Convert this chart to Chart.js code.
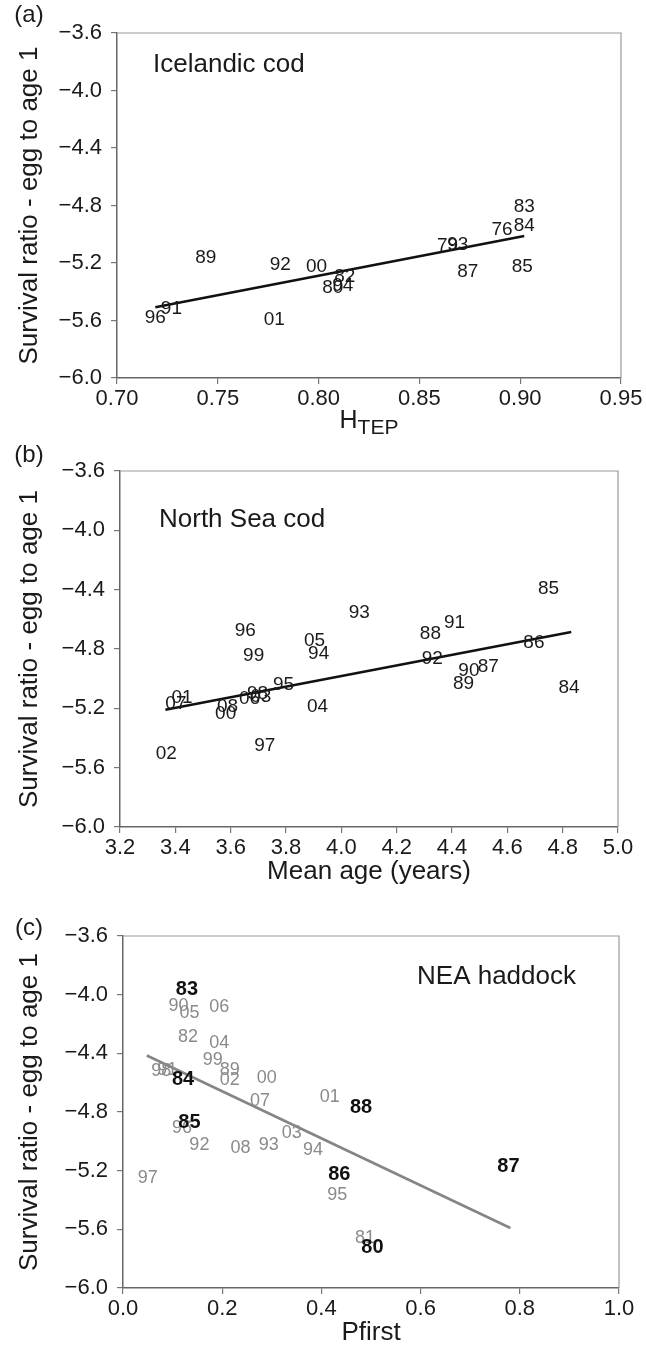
<!DOCTYPE html>
<html lang="en">
<head>
<meta charset="UTF-8">
<title>Survival ratio - egg to age 1</title>
<script src="https://cdn.jsdelivr.net/npm/chart.js"></script>
<style>
  body { margin: 0; background: #fff; }
  #page { position: relative; width: 646px; height: 1347px; }
  .panel { position: absolute; left: 0; width: 646px; }
</style>
</head>
<body>
<div id="page">
  <div class="panel" style="top:0;height:440px"><canvas id="chartA"></canvas></div>
  <div class="panel" style="top:440px;height:445px"><canvas id="chartB"></canvas></div>
  <div class="panel" style="top:885px;height:462px"><canvas id="chartC"></canvas></div>
</div>
<script>
// shared y axis ticks
const yTicks = [-6.0, -5.6, -5.2, -4.8, -4.4, -4.0, -3.6];

// (a) Icelandic cod
const icelandYears = ['83', '84', '76', '79', '93', '89', '92', '00', '85', '87', '82', '80', '94', '91', '96', '01'];
const icelandH = [0.902, 0.902, 0.891, 0.864, 0.869, 0.744, 0.781, 0.799, 0.901, 0.874, 0.813, 0.807, 0.812, 0.727, 0.719, 0.778];
const icelandSurv = [-4.81, -4.94, -4.966, -5.082, -5.075, -5.163, -5.214, -5.226, -5.226, -5.26, -5.295, -5.369, -5.36, -5.515, -5.578, -5.597];
const icelandFitX = [0.719, 0.902];
const icelandFitY = [-5.508, -5.012];
const icelandTicksX = [0.70, 0.75, 0.80, 0.85, 0.90, 0.95];

// (b) North Sea cod
const northYears = ['85', '93', '91', '96', '88', '05', '86', '99', '94', '92', '90', '87', '89', '95', '84', '06', '98', '03', '01', '07', '04', '08', '00', '97', '02'];
const northAge = [4.749, 4.065, 4.409, 3.653, 4.322, 3.903, 4.696, 3.683, 3.918, 4.329, 4.461, 4.531, 4.442, 3.791, 4.823, 3.668, 3.697, 3.709, 3.424, 3.402, 3.914, 3.589, 3.582, 3.723, 3.367];
const northSurv = [-4.393, -4.557, -4.625, -4.679, -4.696, -4.746, -4.757, -4.847, -4.831, -4.865, -4.944, -4.921, -5.033, -5.04, -5.06, -5.135, -5.101, -5.124, -5.128, -5.168, -5.191, -5.191, -5.236, -5.449, -5.505];
const northFitX = [3.364, 4.831];
const northFitY = [-5.209, -4.685];
const northTicksX = [3.2, 3.4, 3.6, 3.8, 4.0, 4.2, 4.4, 4.6, 4.8, 5.0];

// (c) NEA haddock - grey years
const haddockYears = ['90', '05', '06', '82', '04', '99', '98', '91', '89', '02', '00', '07', '01', '96', '03', '92', '93', '08', '94', '97', '95', '81'];
const haddockP = [0.112, 0.134, 0.194, 0.131, 0.194, 0.181, 0.077, 0.089, 0.215, 0.215, 0.29, 0.276, 0.417, 0.119, 0.34, 0.154, 0.294, 0.237, 0.383, 0.05, 0.432, 0.488];
const haddockSurv = [-4.077, -4.127, -4.082, -4.286, -4.331, -4.445, -4.518, -4.513, -4.513, -4.581, -4.569, -4.722, -4.695, -4.91, -4.944, -5.028, -5.024, -5.046, -5.058, -5.251, -5.364, -5.659];
// (c) NEA haddock - bold years
const haddockBoldYears = ['83', '84', '88', '85', '87', '86', '80'];
const haddockBoldP = [0.129, 0.121, 0.48, 0.134, 0.777, 0.436, 0.503];
const haddockBoldSurv = [-3.968, -4.581, -4.77, -4.872, -5.171, -5.223, -5.723];
const haddockFitX = [0.048, 0.781];
const haddockFitY = [-4.415, -5.591];
const haddockTicksX = [0.0, 0.2, 0.4, 0.6, 0.8, 1.0];

const FONT = "'Liberation Sans', Arial, sans-serif";
const BOLD_FONT = "'Liberation Sans Narrow', 'Liberation Sans', Arial, sans-serif";
const Y_TITLE = 'Survival ratio - egg to age 1';

function fmt(v, d) {
  return (v < -1e-9 ? '\u2212' : '') + Math.abs(v).toFixed(d);
}

function points(xs, ys) {
  return xs.map((x, i) => ({ x: x, y: ys[i] }));
}

function labelSet(xs, ys, years, color, font) {
  return { data: points(xs, ys), yearLabels: years, labelColor: color, labelFont: font,
           pointRadius: 0, pointHoverRadius: 0, showLine: false };
}

function fitLine(xs, ys, color) {
  return { data: points(xs, ys), showLine: true, borderColor: color, borderWidth: 2.6,
           pointRadius: 0, pointHoverRadius: 0, fill: false };
}

// draws frame, panel letter, panel name, axis titles and the year labels
function decor(cfg) {
  return {
    id: 'decor',
    afterDatasetsDraw(chart) {
      const ctx = chart.ctx;
      ctx.save();
      ctx.textAlign = 'center';
      ctx.textBaseline = 'middle';
      chart.data.datasets.forEach((ds, i) => {
        if (!ds.yearLabels) return;
        const meta = chart.getDatasetMeta(i);
        ctx.fillStyle = ds.labelColor;
        ctx.font = ds.labelFont;
        meta.data.forEach((pt, j) => ctx.fillText(ds.yearLabels[j], pt.x, pt.y));
      });
      ctx.restore();
    },
    afterDraw(chart) {
      const ctx = chart.ctx;
      const a = chart.chartArea;
      ctx.save();
      // top and right of the box
      ctx.strokeStyle = '#9a9a9a';
      ctx.lineWidth = 1.2;
      ctx.beginPath();
      ctx.moveTo(a.left, a.top);
      ctx.lineTo(a.right, a.top);
      ctx.lineTo(a.right, a.bottom);
      ctx.stroke();

      ctx.fillStyle = '#1a1a1a';
      ctx.textBaseline = 'middle';
      ctx.textAlign = 'center';
      ctx.font = '24px ' + FONT;
      ctx.fillText(cfg.letter, 29, cfg.letterY);

      ctx.font = '26px ' + FONT;
      ctx.textAlign = cfg.nameAlign;
      ctx.fillText(cfg.name, cfg.nameX, cfg.nameY);

      // y title
      ctx.save();
      ctx.translate(30, (a.top + a.bottom) / 2);
      ctx.rotate(-Math.PI / 2);
      ctx.textAlign = 'center';
      ctx.font = '26px ' + FONT;
      ctx.fillText(Y_TITLE, 0, 0);
      ctx.restore();

      // x title
      const cx = (a.left + a.right) / 2;
      const ty = a.bottom + 45;
      if (cfg.xSub) {
        ctx.font = '25px ' + FONT;
        const w1 = ctx.measureText(cfg.xTitle).width;
        ctx.font = '21px ' + FONT;
        const w2 = ctx.measureText(cfg.xSub).width;
        const x0 = cx - (w1 + w2) / 2;
        ctx.textAlign = 'left';
        ctx.font = '25px ' + FONT;
        ctx.fillText(cfg.xTitle, x0, ty - 2);
        ctx.font = '21px ' + FONT;
        ctx.fillText(cfg.xSub, x0 + w1, ty + 5);
      } else {
        ctx.textAlign = 'center';
        ctx.font = '26px ' + FONT;
        ctx.fillText(cfg.xTitle, cx, ty);
      }
      ctx.restore();
    }
  };
}

function makeChart(id, cfg) {
  const box = cfg.box;
  return new Chart(document.getElementById(id), {
    type: 'scatter',
    data: { datasets: cfg.datasets },
    options: {
      responsive: true,
      maintainAspectRatio: false,
      animation: false,
      events: [],
      layout: { padding: { top: box.top, right: 646 - box.right, left: 0, bottom: 0 } },
      plugins: { legend: { display: false }, tooltip: { enabled: false } },
      scales: {
        x: {
          type: 'linear',
          min: cfg.xTicks[0],
          max: cfg.xTicks[cfg.xTicks.length - 1],
          afterBuildTicks: s => { s.ticks = cfg.xTicks.map(v => ({ value: v })); },
          afterFit: s => { s.height = box.height - box.bottom; },
          ticks: { callback: v => fmt(v, cfg.xDec), font: { family: FONT, size: 22 }, color: '#1a1a1a', padding: 2, maxRotation: 0, autoSkip: false },
          grid: { drawOnChartArea: false, drawTicks: true, tickLength: 6, color: '#777', lineWidth: 1.2 },
          border: { color: '#666', width: 1.5 }
        },
        y: {
          type: 'linear',
          min: -6.0,
          max: -3.6,
          afterBuildTicks: s => { s.ticks = yTicks.map(v => ({ value: v })); },
          afterFit: s => { s.width = box.left; },
          ticks: { callback: v => fmt(v, 1), font: { family: FONT, size: 22 }, color: '#1a1a1a', padding: 9, autoSkip: false },
          grid: { drawOnChartArea: false, drawTicks: true, tickLength: 6, color: '#777', lineWidth: 1.2 },
          border: { color: '#666', width: 1.5 }
        }
      }
    },
    plugins: [decor(cfg)]
  });
}

const numFont = '19px ' + FONT;

makeChart('chartA', {
  box: { left: 117, right: 621, top: 33, bottom: 378, height: 440 },
  xTicks: icelandTicksX, xDec: 2,
  letter: '(a)', letterY: 15,
  name: 'Icelandic cod', nameX: 153, nameY: 65, nameAlign: 'left',
  xTitle: 'H', xSub: 'TEP',
  datasets: [
    fitLine(icelandFitX, icelandFitY, '#111'),
    labelSet(icelandH, icelandSurv, icelandYears, '#1a1a1a', numFont)
  ]
});

makeChart('chartB', {
  box: { left: 120, right: 618, top: 31, bottom: 387, height: 445 },
  xTicks: northTicksX, xDec: 1,
  letter: '(b)', letterY: 15,
  name: 'North Sea cod', nameX: 159, nameY: 80, nameAlign: 'left',
  xTitle: 'Mean age (years)',
  datasets: [
    fitLine(northFitX, northFitY, '#111'),
    labelSet(northAge, northSurv, northYears, '#1a1a1a', numFont)
  ]
});

makeChart('chartC', {
  box: { left: 123, right: 619, top: 51, bottom: 403, height: 462 },
  xTicks: haddockTicksX, xDec: 1,
  letter: '(c)', letterY: 43,
  name: 'NEA haddock', nameX: 576, nameY: 92, nameAlign: 'right',
  xTitle: 'Pfirst',
  datasets: [
    fitLine(haddockFitX, haddockFitY, '#858585'),
    labelSet(haddockP, haddockSurv, haddockYears, '#8a8a8a', '18px ' + FONT),
    labelSet(haddockBoldP, haddockBoldSurv, haddockBoldYears, '#111', 'bold 20px ' + BOLD_FONT)
  ]
});
</script>
</body>
</html>
